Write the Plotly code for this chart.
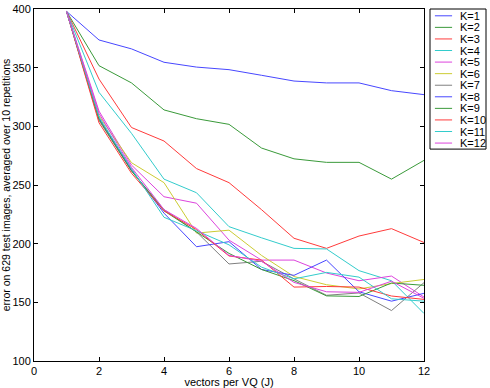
import plotly.graph_objects as go

# vectors per VQ (J)
J = [1, 2, 3, 4, 5, 6, 7, 8, 9, 10, 11, 12]

# error on 629 test images, averaged over 10 repetitions, one list per K
k1 = [398, 373.6, 366, 354.6, 350.5, 348.3, 343.5, 338.6, 337, 337, 330.4, 327]
k2 = [398, 351.7, 337, 314, 306.5, 301.7, 281.5, 272.3, 269.3, 269.3, 255, 271]
k3 = [398, 340.3, 299, 287.5, 264, 252, 229, 204.6, 196, 206.5, 212.8, 201]
k4 = [398, 329, 294, 255, 243.4, 214.5, 205, 196, 195.5, 177, 168.4, 140.5]
k5 = [398, 313, 267, 240, 234.5, 203, 186, 186, 175, 168.4, 172.4, 154.5]
k6 = [398, 309, 269, 252, 209, 211.5, 190, 172, 165, 161.4, 166, 169.5]
k7 = [398, 305, 262, 229, 210, 182.7, 185, 170, 156, 158, 143, 166.8]
k8 = [398, 307, 263, 226, 197.4, 201.7, 178, 173, 186, 159, 151, 157.7]
k9 = [398, 306, 262, 228, 210, 191.7, 178, 168.5, 155.5, 155, 166.5, 164.5]
k10 = [398, 303, 260, 228, 212, 189.5, 186, 163, 163.5, 163, 155.4, 152.5]
k11 = [398, 308, 264, 222.5, 211, 199, 180, 170, 175.5, 171.5, 153, 151]
k12 = [398, 311, 265, 229, 213, 190, 185, 167, 159, 158.5, 168, 153.4]

series = [k1, k2, k3, k4, k5, k6, k7, k8, k9, k10, k11, k12]
names = ["K=%d" % (i + 1) for i in range(12)]
colours = ["#4747ff", "#3a9a3a", "#ff3b3b", "#33cccc", "#dd44dd", "#cccc33",
           "#808080", "#4747ff", "#3a9a3a", "#ff3b3b", "#33cccc", "#dd44dd"]

fig = go.Figure()
for ys, nm, c in zip(series, names, colours):
    fig.add_trace(go.Scatter(x=J, y=ys, name=nm, mode="lines",
                             line=dict(color=c, width=1), showlegend=False))

# compact matlab-style legend box (plotly's own legend rows are too tall)
fig.add_shape(type="rect", xref="paper", yref="paper",
              x0=1.0154, x1=1.159, y0=0.602, y1=1.0,
              line=dict(color="black", width=1), fillcolor="white")
for i, (nm, c) in enumerate(zip(names, colours)):
    yy = 1 - (6.8 + i * 11.57) / 352
    fig.add_shape(type="line", xref="paper", yref="paper",
                  x0=1.028, x1=1.072, y0=yy, y1=yy,
                  line=dict(color=c, width=1))
    fig.add_annotation(x=1.087, y=yy, xref="paper", yref="paper",
                       text=nm, showarrow=False, xanchor="left", yanchor="middle",
                       font=dict(size=11, color="black"))

axis_style = dict(showgrid=False, zeroline=False, showline=True, linecolor="black",
                  linewidth=1, mirror="ticks", ticks="inside", ticklen=4,
                  tickcolor="black", tickfont=dict(size=11, color="black"))

fig.update_layout(
    width=490, height=388,
    margin=dict(l=34, r=66, t=9, b=27, autoexpand=False),
    paper_bgcolor="white", plot_bgcolor="white",
    font=dict(family="Liberation Sans, Arial, sans-serif", size=11, color="black"),
    xaxis=dict(range=[0, 12], tickvals=[0, 2, 4, 6, 8, 10, 12],
               title=dict(text="vectors per VQ (J)", font=dict(size=11), standoff=1),
               **axis_style),
    yaxis=dict(range=[100, 400], tickvals=[100, 150, 200, 250, 300, 350, 400],
               title=dict(text="error on 629 test images, averaged over 10 repetitions",
                          font=dict(size=10.5), standoff=1),
               **axis_style),
)

fig.write_html("out.html", config={"displayModeBar": False},
               post_script="document.body.style.margin='0';")
